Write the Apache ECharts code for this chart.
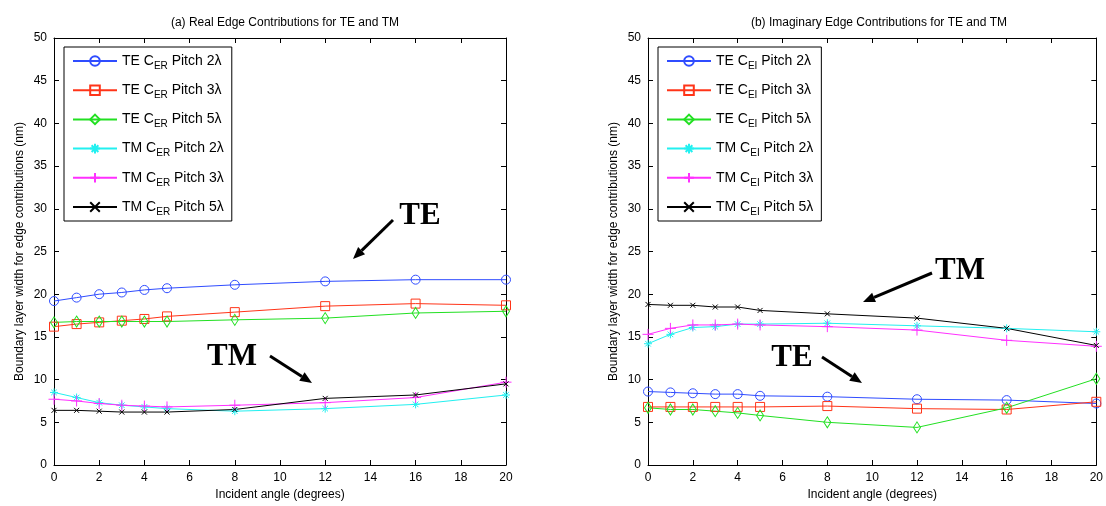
<!DOCTYPE html>
<html>
<head>
<meta charset="utf-8">
<script src="https://cdn.jsdelivr.net/npm/echarts@6/dist/echarts.min.js"></script>
<style>
  html, body { margin: 0; padding: 0; background: #fff; }
  #chart { width: 1106px; height: 506px; }
</style>
</head>
<body>
<div id="chart"></div>
<script>
// incident angles (degrees)
const angles = [0, 1, 2, 3, 4, 5, 8, 12, 16, 20];

// (a) real edge contributions
const realTE2 = [19.2, 19.6, 20.0, 20.2, 20.5, 20.7, 21.1, 21.5, 21.7, 21.7];
const realTE3 = [16.2, 16.5, 16.7, 16.9, 17.1, 17.4, 17.9, 18.6, 18.9, 18.7];
const realTE5 = [16.7, 16.8, 16.8, 16.8, 16.8, 16.8, 17.0, 17.2, 17.8, 18.0];
const realTM2 = [8.5, 7.9, 7.3, 7.0, 6.8, 6.6, 6.3, 6.6, 7.1, 8.2];
const realTM3 = [7.7, 7.5, 7.2, 7.0, 6.9, 6.8, 7.0, 7.3, 7.9, 9.7];
const realTM5 = [6.4, 6.4, 6.3, 6.2, 6.2, 6.2, 6.5, 7.8, 8.2, 9.5];

// (b) imaginary edge contributions
const imagTE2 = [8.6, 8.5, 8.4, 8.3, 8.3, 8.1, 8.0, 7.7, 7.6, 7.2];
const imagTE3 = [6.8, 6.8, 6.8, 6.8, 6.8, 6.8, 6.9, 6.6, 6.5, 7.4];
const imagTE5 = [6.7, 6.5, 6.5, 6.3, 6.1, 5.8, 5.0, 4.4, 6.7, 10.1];
const imagTM2 = [14.2, 15.3, 16.1, 16.2, 16.5, 16.5, 16.6, 16.3, 16.0, 15.6];
const imagTM3 = [15.3, 16.0, 16.4, 16.4, 16.5, 16.4, 16.2, 15.8, 14.6, 13.9];
const imagTM5 = [18.8, 18.7, 18.7, 18.5, 18.5, 18.1, 17.7, 17.2, 16.0, 14.0];

const realNames = ['TE CER Pitch 2λ', 'TE CER Pitch 3λ', 'TE CER Pitch 5λ',
                   'TM CER Pitch 2λ', 'TM CER Pitch 3λ', 'TM CER Pitch 5λ'];
const imagNames = ['TE CEI Pitch 2λ', 'TE CEI Pitch 3λ', 'TE CEI Pitch 5λ',
                   'TM CEI Pitch 2λ', 'TM CEI Pitch 3λ', 'TM CEI Pitch 5λ'];

const colors = ['#2f4cff', '#ff3418', '#22e022', '#22f0f0', '#ff30ff', '#000000'];
// hollow markers draw their outline only; stroked path markers
const symbols = [
  { symbol: 'circle', size: 9, hollow: true },
  { symbol: 'rect', size: 9, hollow: true },
  { symbol: 'diamond', size: [7, 11], hollow: true },
  { symbol: 'path://M5,0L5,10M0,5L10,5M1.5,1.5L8.5,8.5M8.5,1.5L1.5,8.5', size: 8 },
  { symbol: 'path://M5,0L5,10M0,5L10,5', size: 11 },
  { symbol: 'path://M0,0L10,10M10,0L0,10', size: 5 }
];

const chart = echarts.init(document.getElementById('chart'));

function makeSeries(names, data, axisIdx) {
  return names.map((name, i) => ({
    name: name,
    type: 'line',
    xAxisIndex: axisIdx,
    yAxisIndex: axisIdx,
    data: angles.map((a, j) => [a, data[i][j]]),
    symbol: symbols[i].symbol,
    symbolSize: symbols[i].size,
    showAllSymbol: true,
    animation: false,
    lineStyle: { color: colors[i], width: 1 },
    itemStyle: {
      color: symbols[i].hollow ? 'rgba(255,255,255,0)' : colors[i],
      borderColor: colors[i],
      borderWidth: 1
    },
    emphasis: { disabled: true }
  }));
}

const axisFont = { color: '#000', fontSize: 12, fontFamily: 'Liberation Sans, Arial' };

function xAxes(gridIndex) {
  return [
    {
      gridIndex: gridIndex, type: 'value', min: 0, max: 20, interval: 2, position: 'bottom',
      name: 'Incident angle (degrees)', nameLocation: 'middle', nameGap: 24,
      nameTextStyle: axisFont,
      axisLine: { onZero: false, lineStyle: { color: '#000' } },
      axisTick: { inside: true, length: 5, lineStyle: { color: '#000' } },
      axisLabel: Object.assign({ margin: 7 }, axisFont),
      splitLine: { show: false }
    },
    {
      gridIndex: gridIndex, type: 'value', min: 0, max: 20, interval: 2, position: 'top',
      axisLine: { onZero: false, lineStyle: { color: '#000' } },
      axisTick: { inside: true, length: 5, lineStyle: { color: '#000' } },
      axisLabel: { show: false },
      splitLine: { show: false }
    }
  ];
}

function yAxes(gridIndex) {
  return [
    {
      gridIndex: gridIndex, type: 'value', min: 0, max: 50, interval: 5, position: 'left',
      name: 'Boundary layer width for edge contributions (nm)', nameLocation: 'middle', nameGap: 28,
      nameTextStyle: axisFont,
      axisLine: { show: true, onZero: false, lineStyle: { color: '#000' } },
      axisTick: { show: true, inside: true, length: 5, lineStyle: { color: '#000' } },
      axisLabel: Object.assign({ margin: 7 }, axisFont),
      splitLine: { show: false }
    },
    {
      gridIndex: gridIndex, type: 'value', min: 0, max: 50, interval: 5, position: 'right',
      axisLine: { show: true, onZero: false, lineStyle: { color: '#000' } },
      axisTick: { show: true, inside: true, length: 5, lineStyle: { color: '#000' } },
      axisLabel: { show: false },
      splitLine: { show: false }
    }
  ];
}

function legend(names, left) {
  return {
    data: names,
    orient: 'vertical',
    left: left,
    top: 47,
    padding: [7, 8, 4, 8],
    itemWidth: 44,
    itemHeight: 12,
    itemGap: 12.2,
    backgroundColor: '#fff',
    borderColor: '#000',
    borderWidth: 1,
    selectedMode: false,
    formatter: n => n.replace(/C(ER|EI)/, 'C{sub|$1}'),
    textStyle: {
      color: '#000', fontSize: 14, fontFamily: 'Liberation Sans, Arial',
      rich: { sub: { fontSize: 10, fontFamily: 'Liberation Sans, Arial', color: '#000', padding: [10, 0, 0, 0] } }
    }
  };
}

// annotation arrows: [text, textX, textY, fromX, fromY, toX, toY]
const notes = [
  ['TE', 420, 216, 393, 220, 353, 259],
  ['TM', 232, 357, 270, 356, 312, 383],
  ['TM', 960, 271, 932, 273, 863, 302],
  ['TE', 792, 358, 822, 357, 862, 383]
];

function arrow(x1, y1, x2, y2) {
  const ang = Math.atan2(y2 - y1, x2 - x1);
  const L = 12, W = 5;
  const bx = x2 - L * Math.cos(ang), by = y2 - L * Math.sin(ang);
  const px = -Math.sin(ang) * W, py = Math.cos(ang) * W;
  return [
    { type: 'line', shape: { x1: x1, y1: y1, x2: bx, y2: by }, style: { stroke: '#000', lineWidth: 3 }, silent: true },
    { type: 'polygon', shape: { points: [[x2, y2], [bx + px, by + py], [bx - px, by - py]] }, style: { fill: '#000' }, silent: true }
  ];
}

const graphics = [];
notes.forEach(n => {
  graphics.push({
    type: 'text', x: n[1], y: n[2], silent: true,
    style: { text: n[0], font: 'bold 31px "Liberation Serif", "Times New Roman"', fill: '#000', align: 'center', verticalAlign: 'middle' }
  });
  arrow(n[3], n[4], n[5], n[6]).forEach(g => graphics.push(g));
});

chart.setOption({
  animation: false,
  backgroundColor: '#fff',
  title: [
    { text: '(a) Real Edge Contributions for TE and TM', left: 280, top: 12, textAlign: 'center',
      textStyle: { color: '#000', fontSize: 12, fontWeight: 'normal', fontFamily: 'Liberation Sans, Arial' } },
    { text: '(b) Imaginary Edge Contributions for TE and TM', left: 874, top: 12, textAlign: 'center',
      textStyle: { color: '#000', fontSize: 12, fontWeight: 'normal', fontFamily: 'Liberation Sans, Arial' } }
  ],
  grid: [
    { left: 54, top: 38, width: 452, height: 429 },
    { left: 648, top: 38, width: 452, height: 429 }
  ],
  xAxis: xAxes(0).concat(xAxes(1)),
  yAxis: yAxes(0).concat(yAxes(1)),
  legend: [legend(realNames, 64), legend(imagNames, 658)],
  series: makeSeries(realNames, [realTE2, realTE3, realTE5, realTM2, realTM3, realTM5], 0)
    .concat(makeSeries(imagNames, [imagTE2, imagTE3, imagTE5, imagTM2, imagTM3, imagTM5], 2)),
  graphic: graphics
});
</script>
</body>
</html>
